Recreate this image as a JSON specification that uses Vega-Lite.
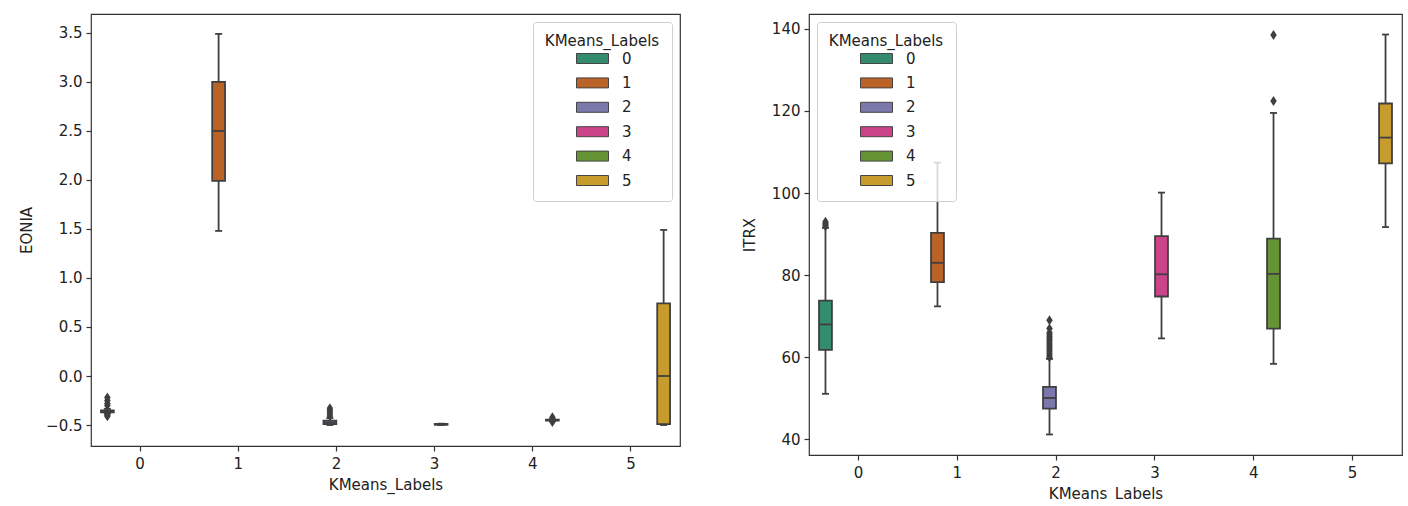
{
  "$schema": "https://vega.github.io/schema/vega-lite/v6.json",
  "background": "white",
  "padding": {"left": 18, "top": 13, "right": 5, "bottom": 0},
  "spacing": 60,
  "datasets": {
    "eonia_box": [
      {"KMeans_Labels": 0, "lower": -0.385, "q1": -0.37, "median": -0.36, "q3": -0.35, "upper": -0.335},
      {"KMeans_Labels": 1, "lower": 1.48, "q1": 1.99, "median": 2.5, "q3": 3.0, "upper": 3.49},
      {"KMeans_Labels": 2, "lower": -0.5, "q1": -0.49, "median": -0.475, "q3": -0.455, "upper": -0.43},
      {"KMeans_Labels": 3, "lower": -0.5, "q1": -0.497, "median": -0.493, "q3": -0.489, "upper": -0.486},
      {"KMeans_Labels": 4, "lower": -0.46, "q1": -0.455, "median": -0.45, "q3": -0.445, "upper": -0.44},
      {"KMeans_Labels": 5, "lower": -0.5, "q1": -0.49, "median": 0.0, "q3": 0.74, "upper": 1.49}
    ],
    "eonia_out": [
      {"KMeans_Labels": 0, "value": -0.22},
      {"KMeans_Labels": 0, "value": -0.25},
      {"KMeans_Labels": 0, "value": -0.28},
      {"KMeans_Labels": 0, "value": -0.30},
      {"KMeans_Labels": 0, "value": -0.40},
      {"KMeans_Labels": 0, "value": -0.41},
      {"KMeans_Labels": 2, "value": -0.33},
      {"KMeans_Labels": 2, "value": -0.35},
      {"KMeans_Labels": 2, "value": -0.37},
      {"KMeans_Labels": 2, "value": -0.39},
      {"KMeans_Labels": 2, "value": -0.41},
      {"KMeans_Labels": 4, "value": -0.42},
      {"KMeans_Labels": 4, "value": -0.47}
    ],
    "itrx_box": [
      {"KMeans_Labels": 0, "lower": 51.1, "q1": 61.8, "median": 68.0, "q3": 73.8, "upper": 91.5},
      {"KMeans_Labels": 1, "lower": 72.4, "q1": 78.3, "median": 83.0, "q3": 90.3, "upper": 107.4},
      {"KMeans_Labels": 2, "lower": 41.2, "q1": 47.5, "median": 50.1, "q3": 52.8, "upper": 59.6},
      {"KMeans_Labels": 3, "lower": 64.6, "q1": 74.8, "median": 80.2, "q3": 89.5, "upper": 100.1},
      {"KMeans_Labels": 4, "lower": 58.4, "q1": 67.0, "median": 80.3, "q3": 88.9, "upper": 119.5},
      {"KMeans_Labels": 5, "lower": 91.7, "q1": 107.2, "median": 113.5, "q3": 121.8, "upper": 138.6}
    ],
    "itrx_out": [
      {"KMeans_Labels": 0, "value": 91.9},
      {"KMeans_Labels": 0, "value": 92.3},
      {"KMeans_Labels": 0, "value": 92.6},
      {"KMeans_Labels": 0, "value": 93.0},
      {"KMeans_Labels": 2, "value": 60.0},
      {"KMeans_Labels": 2, "value": 60.5},
      {"KMeans_Labels": 2, "value": 61.0},
      {"KMeans_Labels": 2, "value": 61.5},
      {"KMeans_Labels": 2, "value": 62.0},
      {"KMeans_Labels": 2, "value": 62.5},
      {"KMeans_Labels": 2, "value": 63.0},
      {"KMeans_Labels": 2, "value": 63.5},
      {"KMeans_Labels": 2, "value": 64.0},
      {"KMeans_Labels": 2, "value": 64.5},
      {"KMeans_Labels": 2, "value": 65.0},
      {"KMeans_Labels": 2, "value": 65.5},
      {"KMeans_Labels": 2, "value": 66.0},
      {"KMeans_Labels": 2, "value": 67.0},
      {"KMeans_Labels": 2, "value": 69.0},
      {"KMeans_Labels": 4, "value": 122.4},
      {"KMeans_Labels": 4, "value": 138.5}
    ]
  },
  "hconcat": [
    {
      "width": 589,
      "height": 432,
      "encoding": {
        "x": {"field": "KMeans_Labels", "type": "nominal", "title": "KMeans_Labels",
              "scale": {"domain": [0, 1, 2, 3, 4, 5], "paddingInner": 0, "paddingOuter": 0},
              "axis": {"labelAngle": 0, "labelPadding": 5, "titlePadding": 6}},
        "xOffset": {"field": "KMeans_Labels", "type": "nominal",
                    "scale": {"domain": [0, 1, 2, 3, 4, 5], "paddingInner": 0.02, "paddingOuter": 0.76}}
      },
      "layer": [
        {
          "data": {"name": "eonia_box"},
          "mark": {"type": "rule", "color": "#3f3f3f", "strokeWidth": 1.8},
          "encoding": {
            "y": {"field": "lower", "type": "quantitative", "title": "EONIA",
                  "scale": {"domain": [-0.714, 3.693], "nice": false, "zero": false},
                  "axis": {"values": [-0.5, 0, 0.5, 1, 1.5, 2, 2.5, 3, 3.5], "format": ".1f", "labelPadding": 4, "titlePadding": 11}},
            "y2": {"field": "upper"}
          }
        },
        {
          "data": {"name": "eonia_box"},
          "mark": {"type": "bar", "stroke": "#3f3f3f", "strokeWidth": 1.8, "opacity": 1},
          "encoding": {
            "y": {"field": "q1", "type": "quantitative"},
            "y2": {"field": "q3"},
            "color": {"field": "KMeans_Labels", "type": "nominal", "title": "KMeans_Labels",
                      "scale": {"domain": [0, 1, 2, 3, 4, 5], "range": ["#348c6f", "#bb6226", "#7b78ab", "#cb448a", "#669435", "#c89c2c"]},
                      "legend": {"orient": "top-right"}}
          }
        },
        {
          "data": {"name": "eonia_box"},
          "mark": {"type": "tick", "color": "#3f3f3f", "thickness": 1.8, "size": 13, "opacity": 1},
          "encoding": {"y": {"field": "median", "type": "quantitative"}}
        },
        {
          "data": {"name": "eonia_box"},
          "mark": {"type": "tick", "color": "#3f3f3f", "thickness": 1.8, "size": 7, "opacity": 1},
          "encoding": {"y": {"field": "lower", "type": "quantitative"}}
        },
        {
          "data": {"name": "eonia_box"},
          "mark": {"type": "tick", "color": "#3f3f3f", "thickness": 1.8, "size": 7, "opacity": 1},
          "encoding": {"y": {"field": "upper", "type": "quantitative"}}
        },
        {
          "data": {"name": "eonia_out"},
          "mark": {"type": "point", "shape": "M0,-1L0.65,0L0,1L-0.65,0Z", "filled": true, "color": "#3f3f3f", "size": 100, "opacity": 1},
          "encoding": {"y": {"field": "value", "type": "quantitative"}}
        }
      ]
    },
    {
      "width": 593,
      "height": 441,
      "encoding": {
        "x": {"field": "KMeans_Labels", "type": "nominal", "title": "KMeans_Labels",
              "scale": {"domain": [0, 1, 2, 3, 4, 5], "paddingInner": 0, "paddingOuter": 0},
              "axis": {"labelAngle": 0, "labelPadding": 5, "titlePadding": 6}},
        "xOffset": {"field": "KMeans_Labels", "type": "nominal",
                    "scale": {"domain": [0, 1, 2, 3, 4, 5], "paddingInner": 0.02, "paddingOuter": 0.76}}
      },
      "layer": [
        {
          "data": {"name": "itrx_box"},
          "mark": {"type": "rule", "color": "#3f3f3f", "strokeWidth": 1.8},
          "encoding": {
            "y": {"field": "lower", "type": "quantitative", "title": "ITRX",
                  "scale": {"domain": [36.2, 143.6], "nice": false, "zero": false},
                  "axis": {"values": [40, 60, 80, 100, 120, 140], "labelPadding": 4, "titlePadding": 14}},
            "y2": {"field": "upper"}
          }
        },
        {
          "data": {"name": "itrx_box"},
          "mark": {"type": "bar", "stroke": "#3f3f3f", "strokeWidth": 1.8, "opacity": 1},
          "encoding": {
            "y": {"field": "q1", "type": "quantitative"},
            "y2": {"field": "q3"},
            "color": {"field": "KMeans_Labels", "type": "nominal", "title": "KMeans_Labels",
                      "scale": {"domain": [0, 1, 2, 3, 4, 5], "range": ["#348c6f", "#bb6226", "#7b78ab", "#cb448a", "#669435", "#c89c2c"]},
                      "legend": {"orient": "top-left"}}
          }
        },
        {
          "data": {"name": "itrx_box"},
          "mark": {"type": "tick", "color": "#3f3f3f", "thickness": 1.8, "size": 13, "opacity": 1},
          "encoding": {"y": {"field": "median", "type": "quantitative"}}
        },
        {
          "data": {"name": "itrx_box"},
          "mark": {"type": "tick", "color": "#3f3f3f", "thickness": 1.8, "size": 7, "opacity": 1},
          "encoding": {"y": {"field": "lower", "type": "quantitative"}}
        },
        {
          "data": {"name": "itrx_box"},
          "mark": {"type": "tick", "color": "#3f3f3f", "thickness": 1.8, "size": 7, "opacity": 1},
          "encoding": {"y": {"field": "upper", "type": "quantitative"}}
        },
        {
          "data": {"name": "itrx_out"},
          "mark": {"type": "point", "shape": "M0,-1L0.65,0L0,1L-0.65,0Z", "filled": true, "color": "#3f3f3f", "size": 100, "opacity": 1},
          "encoding": {"y": {"field": "value", "type": "quantitative"}}
        }
      ]
    }
  ],
  "resolve": {
    "scale": {"color": "independent", "x": "independent", "y": "independent", "xOffset": "independent"},
    "legend": {"color": "independent"}
  },
  "config": {
    "font": "DejaVu Sans",
    "view": {"stroke": "#333333", "strokeWidth": 1.2},
    "axis": {
      "labelFont": "DejaVu Sans", "labelFontSize": 15, "labelColor": "#222222",
      "titleFont": "DejaVu Sans", "titleFontSize": 15, "titleFontWeight": "normal", "titleColor": "#222222",
      "tickColor": "#333333", "tickSize": 5, "tickWidth": 1.2, "domain": false, "grid": false
    },
    "legend": {
      "offset": 8,
      "padding": 12,
      "fillColor": "rgba(255,255,255,0.8)",
      "strokeColor": "#d0d0d0",
      "cornerRadius": 3,
      "titleFont": "DejaVu Sans", "titleFontSize": 15, "titleFontWeight": "normal", "titleColor": "#222222",
      "titleAnchor": "middle", "titlePadding": 1,
      "labelFont": "DejaVu Sans", "labelFontSize": 15, "labelColor": "#222222",
      "symbolType": "M-2,-0.625H2V0.625H-2Z", "symbolSize": 256,
      "symbolStrokeColor": "#444444", "symbolStrokeWidth": 1,
      "symbolOffset": 11, "labelOffset": 21,
      "rowPadding": 7.4
    }
  }
}
